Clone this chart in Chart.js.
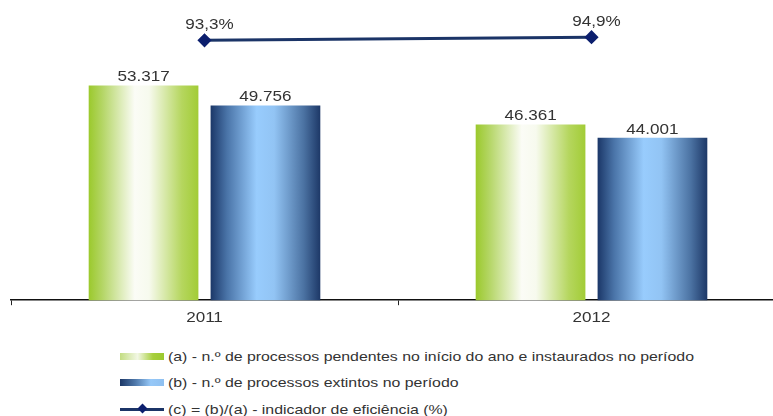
<!DOCTYPE html>
<html lang="pt">
<head>
<meta charset="utf-8">
<script src="https://cdn.jsdelivr.net/npm/chart.js@4/dist/chart.umd.min.js"></script>
<style>
  html, body { margin: 0; padding: 0; background: #fff; overflow: hidden; }
  #wrap { position: relative; width: 800px; height: 330px; }
  .legend { position: absolute; left: 120px; top: 343px; font-family: "Liberation Sans", Arial, sans-serif; font-size: 13px; color: #333; }
  .legend div { display: flex; align-items: center; height: 26.5px; }
  .legend .sw { width: 44px; height: 7px; margin-right: 4px; position: relative; flex: none; }
  .legend .txt { display: inline-block; white-space: nowrap; transform: scaleX(1.22); transform-origin: left center; }
  .sw.green { background: linear-gradient(to right, #c3dd82, #f2f7e4 40%, #a7cf3c 75%, #9bc92e); }
  .sw.blue { background: linear-gradient(to right, #1c3766, #4f79ab 35%, #96c8f8 70%, #8fc0f0); }
  .sw.line { height: 3px; background: #1b3467; }
  .sw.line::after { content: ""; position: absolute; left: 19px; top: -3px; width: 7px; height: 7px; background: #0c1f6e; transform: rotate(45deg); }
</style>
</head>
<body>
<div id="wrap"><canvas id="myChart"></canvas></div>
<div class="legend" id="legend"></div>
<script>
const anos = ["2011", "2012"];
const pendentes = [53317, 46361];   // (a)
const extintos = [49756, 44001];    // (b)
const eficiencia = [93.3, 94.9];    // (c) = (b)/(a)
const legendas = [
  "(a) - n.º de processos pendentes no início do ano e instaurados no período",
  "(b) - n.º de processos extintos no período",
  "(c) = (b)/(a) - indicador de eficiência (%)",
];

const catPct = 0.63;
const barPct = 0.9;
const stretch = 1.22; // texto ligeiramente alargado

// formato 53.317 / 93,3
function fmtMil(v) {
  return String(v).replace(/\B(?=(\d{3})+(?!\d))/g, ".");
}
function fmtPct(v) {
  return v.toFixed(1).replace(".", ",") + "%";
}

// gradiente horizontal em cada barra
function barGradient(stops, idx) {
  return (ctx) => {
    const chart = ctx.chart;
    const x = chart.scales.x;
    if (ctx.type !== "data" || !x) return stops[0][1];
    const catW = x.width / anos.length;
    const group = catW * catPct;
    const slot = group / 2;
    const w = slot * barPct;
    const left = x.getPixelForValue(ctx.dataIndex) - group / 2 + slot * idx + (slot - w) / 2;
    if (!isFinite(left) || !isFinite(w) || w <= 0) return stops[0][1];
    const g = chart.ctx.createLinearGradient(left, 0, left + w, 0);
    stops.forEach((s) => g.addColorStop(s[0], s[1]));
    return g;
  };
}

const verde = [[0, "#9bc92c"], [0.12, "#b3d563"], [0.42, "#fbfcf6"], [0.55, "#f7faee"], [0.85, "#b5d65e"], [1, "#a2cc36"]];
const azul = [[0, "#1b3768"], [0.15, "#4a74a8"], [0.42, "#98ccfd"], [0.58, "#92c4f4"], [0.85, "#4b72a2"], [1, "#1d3867"]];

function stretchedText(c, text, x, y) {
  c.save();
  c.translate(x, y);
  c.scale(stretch, 1);
  c.fillText(text, 0, 0);
  c.restore();
}

// rótulos de valor e dos anos
const valueLabels = {
  id: "valueLabels",
  afterDatasetsDraw(chart) {
    const c = chart.ctx;
    c.save();
    c.font = "14px 'Liberation Sans', Arial, sans-serif";
    c.fillStyle = "#333";
    c.textAlign = "center";
    c.textBaseline = "alphabetic";
    chart.data.datasets.forEach((ds, i) => {
      const meta = chart.getDatasetMeta(i);
      meta.data.forEach((el, j) => {
        if (ds.type === "line") {
          stretchedText(c, fmtPct(ds.data[j]), el.x + 5, el.y - 11);
        } else {
          stretchedText(c, fmtMil(ds.data[j]), el.x, el.y - 4);
        }
      });
    });
    const xs = chart.scales.x;
    anos.forEach((a, i) => {
      stretchedText(c, a, xs.getPixelForValue(i), xs.top + 22);
    });
    c.restore();
  },
};

// legenda em coluna
const lg = document.getElementById("legend");
["green", "blue", "line"].forEach((cls, i) => {
  const row = document.createElement("div");
  const sw = document.createElement("span");
  sw.className = "sw " + cls;
  const txt = document.createElement("span");
  txt.className = "txt";
  txt.textContent = legendas[i];
  row.appendChild(sw);
  row.appendChild(txt);
  lg.appendChild(row);
});

var ctx = document.getElementById("myChart");
var myChart = new Chart(ctx, {
  type: "bar",
  data: {
    labels: anos,
    datasets: [
      {
        label: legendas[0],
        data: pendentes,
        backgroundColor: barGradient(verde, 0),
        categoryPercentage: catPct,
        barPercentage: barPct,
        order: 2,
      },
      {
        label: legendas[1],
        data: extintos,
        backgroundColor: barGradient(azul, 1),
        categoryPercentage: catPct,
        barPercentage: barPct,
        order: 2,
      },
      {
        type: "line",
        label: legendas[2],
        data: eficiencia,
        yAxisID: "y1",
        borderColor: "#1b3467",
        borderWidth: 3,
        pointStyle: "rectRot",
        pointRadius: 5,
        pointBackgroundColor: "#0c1f6e",
        pointBorderColor: "#0c1f6e",
        order: 1,
      },
    ],
  },
  options: {
    responsive: true,
    maintainAspectRatio: false,
    animation: false,
    layout: { padding: { left: 11, right: 15, top: 20, bottom: 0 } },
    plugins: {
      legend: { display: false },
      tooltip: { enabled: false },
    },
    scales: {
      x: {
        grid: { display: true, drawOnChartArea: false, drawTicks: true, tickLength: 5, color: "#222", offset: true },
        border: { display: true, color: "#111", width: 1.5 },
        ticks: {
          color: "rgba(0,0,0,0)", // os anos são desenhados pelo plugin
          padding: 4,
          font: { family: "'Liberation Sans', Arial, sans-serif", size: 14 },
        },
      },
      y: {
        display: false,
        min: 15000, //eixo principal
        max: 65000,
      },
      y1: {
        display: false,
        position: "right",
        min: -44,
        max: 104,
      },
    },
  },
  plugins: [valueLabels],
});
</script>
</body>
</html>
